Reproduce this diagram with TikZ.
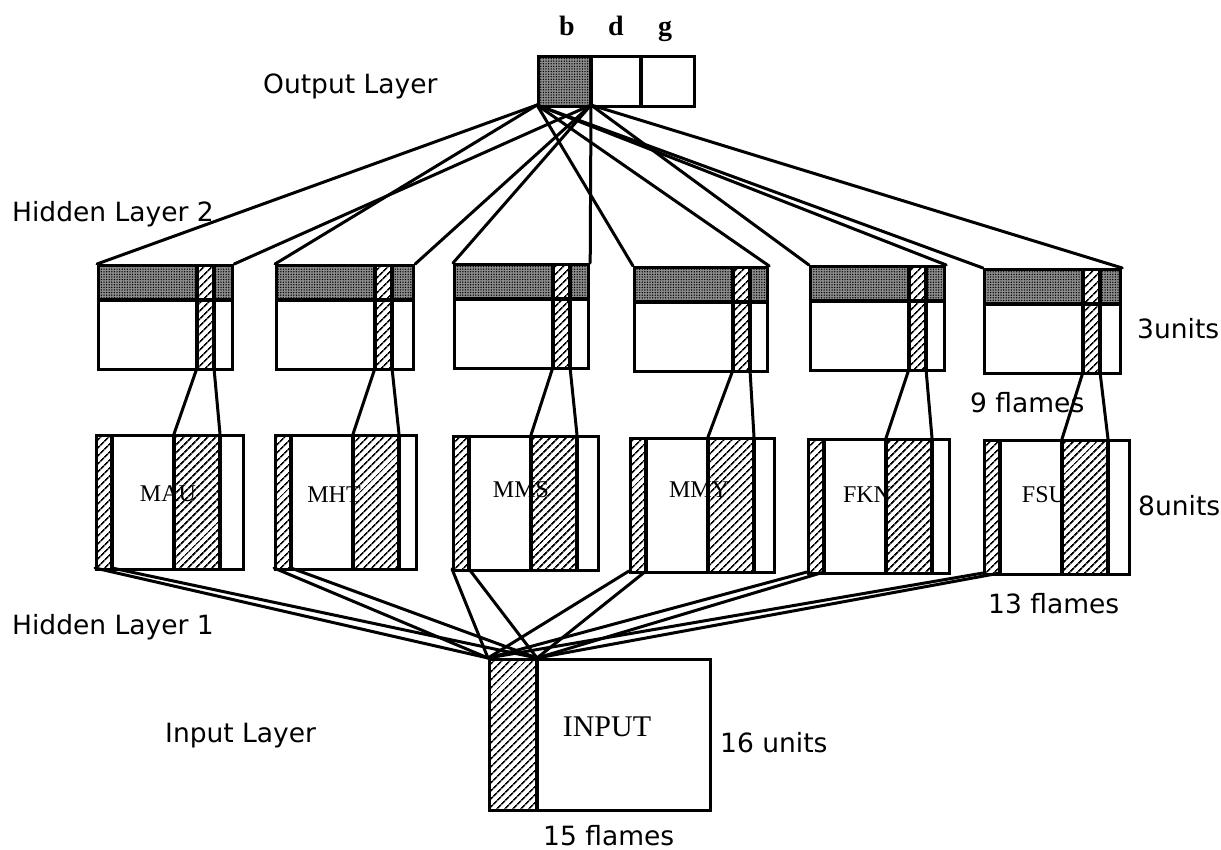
\documentclass[tikz,border=0pt]{standalone}
\usepackage{fontspec}
\setmainfont{Liberation Serif}
\newfontfamily\labfont{DejaVu Sans}
\usetikzlibrary{patterns.meta}

\tikzset{
  box/.style={draw, line width=3.2pt, inner sep=0pt, anchor=north west},
  divider/.style={line width=3.2pt},
  wire/.style={line width=3pt, line cap=round},
  dotfill/.style={fill=black!45, postaction={pattern={Dots[radius=0.75pt,distance=2.6pt]}, pattern color=black}},
  hatch/.style={pattern={Lines[angle=45,distance=5.4pt,line width=1.7pt]}},
  sanslab/.style={font=\labfont\fontsize{26.5}{30}\selectfont, anchor=base west, inner sep=0pt},
  serlab/.style={font=\fontsize{24}{28}\selectfont, anchor=base, inner sep=0pt},
  outlab/.style={font=\bfseries\fontsize{28}{30}\selectfont, anchor=base, inner sep=0pt},
}

% hidden layer 2 box: name, left, top, width
\newcommand\hiddentwo[4]{%
  \begin{scope}[shift={(#2,#3)}]
    \fill[dotfill] (0,0) rectangle (100,36);
    \fill[dotfill] (117,0) rectangle (#4,36);
    \fill[hatch] (100,0) rectangle (117,104);
    \draw[divider] (0,36) -- (#4,36);
    \draw[divider] (100,0) -- (100,104) (117,0) -- (117,104);
    \node[box, minimum width=#4pt, minimum height=104pt] (#1) at (0,0) {};
    \coordinate (#1hl) at (100,104);
    \coordinate (#1hr) at (117,104);
  \end{scope}}

% hidden layer 1 box: name, left, top, width
\newcommand\hiddenone[4]{%
  \begin{scope}[shift={(#2,#3)}]
    \fill[hatch] (0,0) rectangle (17,134);
    \fill[hatch] (79,0) rectangle (125,134);
    \draw[divider] (17,0) -- (17,134) (79,0) -- (79,134) (125,0) -- (125,134);
    \node[box, minimum width=#4pt, minimum height=134pt] (#1) at (0,0) {};
    \coordinate (#1hl) at (79,0);
    \coordinate (#1hr) at (125,0);
    \coordinate (#1p) at (0,134);
    \coordinate (#1q) at (17,134);
  \end{scope}}

\begin{document}
\begin{tikzpicture}[x=1pt,y=-1pt]
\useasboundingbox (0,0) rectangle (1221,849);

% ---------- output layer ----------
\fill[dotfill] (537,55) rectangle (591,105);
\draw[divider] (591,55) -- (591,105) (641,55) -- (641,105);
\node[box, minimum width=156pt, minimum height=50pt] (out) at (537,55) {};
\coordinate (outA) at (537,105);
\coordinate (outB) at (591,105);
\node[outlab] (lb) at (567,35) {b};
\node[outlab] (ld) at (616,35) {d};
\node[outlab] (lg) at (665,35) {g};

% ---------- hidden layer 2 ----------
\hiddentwo{ta}{97}{264}{134}
\hiddentwo{tb}{275}{264}{137}
\hiddentwo{tc}{453}{263}{134}
\hiddentwo{td}{633}{266}{133}
\hiddentwo{te}{809}{265}{134}
\hiddentwo{tf}{983}{268}{136}

% ---------- hidden layer 1 ----------
\hiddenone{oa}{95}{434}{147}
\hiddenone{ob}{274}{434}{141}
\hiddenone{oc}{452}{435}{145}
\hiddenone{od}{629}{437}{144}
\hiddenone{oe}{807}{438}{141}
\hiddenone{of}{983}{439}{145}

\node[serlab] (lmau) at (168,501) {MAU};
\node[serlab] (lmht) at (334,502) {MHT};
\node[serlab] (lmms) at (521,497) {MMS};
\node[serlab] (lmmy) at (699,497) {MMY};
\node[serlab] (lfkn) at (867,502) {FKN};
\node[serlab] (lfsu) at (1044,502) {FSU};

% ---------- input layer ----------
\fill[hatch] (488,658) rectangle (537,809);
\draw[divider] (537,658) -- (537,809);
\node[box, minimum width=221pt, minimum height=151pt] (inp) at (488,658) {};
\coordinate (inC) at (488,658);
\coordinate (inD) at (537,658);
\node[serlab, font=\fontsize{30}{34}\selectfont] (linput) at (607,736) {INPUT};

% ---------- connectors: output -> hidden 2 ----------
\draw[wire] (outA) -- (ta.north west);
\draw[wire] (outB) -- (ta.north east);
\draw[wire] (outA) -- (tb.north west);
\draw[wire] (outB) -- (tb.north east);
\draw[wire] (outB) -- (tc.north west);
\draw[wire] (outB) -- (tc.north east);
\draw[wire] (outA) -- (td.north west);
\draw[wire] (outA) -- (td.north east);
\draw[wire] (outB) -- (te.north west);
\draw[wire] (outA) -- (te.north east);
\draw[wire] (outA) -- (tf.north west);
\draw[wire] (outB) -- (tf.north east);

% ---------- connectors: hidden 2 -> hidden 1 ----------
\foreach \n/\m in {ta/oa, tb/ob, tc/oc, td/od, te/oe, tf/of}{
  \draw[wire] (\n hl) -- (\m hl);
  \draw[wire] (\n hr) -- (\m hr);
}

% ---------- connectors: hidden 1 -> input ----------
\foreach \m in {oa, ob, oc, od, oe, of}{
  \draw[wire] (\m p) -- (inC);
  \draw[wire] (\m q) -- (inD);
}

% ---------- labels ----------
\node[sanslab] (lout) at (263,93) {Output Layer};
\node[sanslab] (lh2) at (12,221) {Hidden Layer 2};
\node[sanslab] (lh1) at (12,634) {Hidden Layer 1};
\node[sanslab] (lin) at (165,742) {Input Layer};
\node[sanslab] (l3u) at (1137,338) {3units};
\node[sanslab] (l9f) at (970,412) {9 flames};
\node[sanslab] (l8u) at (1138,515) {8units};
\node[sanslab] (l13f) at (988,613) {13 flames};
\node[sanslab] (l16u) at (720,752) {16 units};
\node[sanslab] (l15f) at (543,845) {15 flames};
\end{tikzpicture}
\end{document}
